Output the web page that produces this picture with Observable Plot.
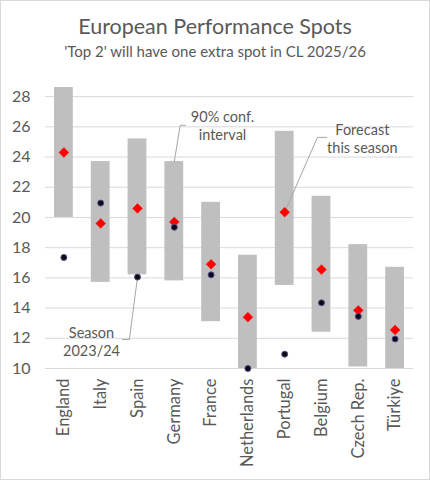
<!DOCTYPE html>
<html>
<head>
<meta charset="utf-8">
<script src="https://cdn.jsdelivr.net/npm/d3@7"></script>
<script src="https://cdn.jsdelivr.net/npm/@observablehq/plot@0.6"></script>
<style>
  html, body { margin: 0; padding: 0; background: #fff; }
  body { width: 430px; height: 480px; position: relative; overflow: hidden; font-family: Lato, "Open Sans", sans-serif; color: #595959; }
  .frame { position: absolute; left: 0; top: 0; width: 430px; height: 480px; box-sizing: border-box; border: 1px solid #d9d9d9; pointer-events: none; }
  .title { position: absolute; left: 0; width: 430px; top: 14px; text-align: center; font-size: 21.5px; line-height: 25px; }
  .subtitle { position: absolute; left: 0; width: 430px; top: 42px; text-align: center; font-size: 15px; line-height: 18px; }
  #chart { position: absolute; left: 0; top: 70px; }
</style>
</head>
<body>
<div class="title">European Performance Spots</div>
<div class="subtitle">'Top 2' will have one extra spot in CL 2025/26</div>
<div id="chart"></div>
<div class="frame"></div>
<script>
const countries = ["England", "Italy", "Spain", "Germany", "France", "Netherlands", "Portugal", "Belgium", "Czech Rep.", "Türkiye"];
const ciLow      = [20.0, 15.7, 16.2, 15.8, 13.1, 10.0, 15.5, 12.4, 10.1, 10.0];
const ciHigh     = [28.6, 23.7, 25.2, 23.7, 21.0, 17.5, 25.7, 21.4, 18.2, 16.7];
const forecast   = [24.3, 19.6, 20.6, 19.7, 16.9, 13.4, 20.35, 16.55, 13.85, 12.55];
const season2324 = [17.35, 20.95, 16.05, 19.35, 16.2, 10.0, 10.95, 14.35, 13.45, 11.95];
const yTicks = [10, 12, 14, 16, 18, 20, 22, 24, 26, 28];

// callouts: anchor on a data point, elbow and text position in data space
const callouts = [
  {label: "90% conf.\ninterval", ax: 3, ay: ciHigh[3], ex: 3.16, ey: 26.1, tx0: 3.3, tx: 4.31, ty: 26.1},
  {label: "Forecast\nthis season", ax: 6, ay: forecast[6], ex: 6.89, ey: 25.3, tx0: 7.14, tx: 8.11, ty: 25.25},
  {label: "Season\n2023/24", ax: 2, ay: season2324[2], ex: 1.78, ey: 11.92, tx0: 1.59, tx: 0.75, ty: 11.79}
];

const rows = countries.map((c, i) => ({i, country: c, lo: ciLow[i], hi: ciHigh[i], fc: forecast[i], s: season2324[i]}));
const leaderPts = callouts.flatMap((c, k) => [
  {k, x: c.ax, y: c.ay}, {k, x: c.ex, y: c.ey}, {k, x: c.tx0, y: c.ey}
]);

const chart = Plot.plot({
  width: 430,
  height: 410,
  marginLeft: 45,
  marginRight: 17,
  marginTop: 11,
  marginBottom: 112,
  style: {fontFamily: "Lato, 'Open Sans', sans-serif", color: "#595959", background: "transparent"},
  x: {domain: [-0.5, 9.5], axis: null},
  y: {domain: [10, 29], axis: null},
  marks: [
    Plot.gridY(yTicks, {stroke: "#d9d9d9", strokeOpacity: 1, strokeWidth: 1}),
    Plot.rectY(rows, {x1: d => d.i - 0.5, x2: d => d.i + 0.5, y1: "lo", y2: "hi", fill: "#bfbfbf", insetLeft: 9, insetRight: 9}),
    Plot.line(leaderPts, {x: "x", y: "y", z: "k", stroke: "#a6a6a6", strokeWidth: 1}),
    Plot.dot(rows, {x: "i", y: "fc", symbol: "diamond2", r: 4.4, fill: "#ff0000", stroke: "#ff0000", strokeWidth: 0.5}),
    Plot.dot(rows, {x: "i", y: "s", r: 3, fill: "#0a0a14", stroke: "#5a4a8c", strokeWidth: 1}),
    Plot.text(callouts, {x: "tx", y: "ty", text: "label", textAnchor: "middle", lineAnchor: "middle", lineHeight: 1.25, fontSize: 14.5, fill: "#595959"}),
    Plot.axisY(yTicks, {tickSize: 0, tickPadding: 15, fontSize: 16, fill: "#595959", label: null}),
    Plot.axisX(d3.range(countries.length), {tickFormat: i => countries[i], tickRotate: -90, tickSize: 0, tickPadding: 10, fontSize: 16.5, fill: "#595959", label: null})
  ]
});
document.getElementById("chart").appendChild(chart);
</script>
</body>
</html>
